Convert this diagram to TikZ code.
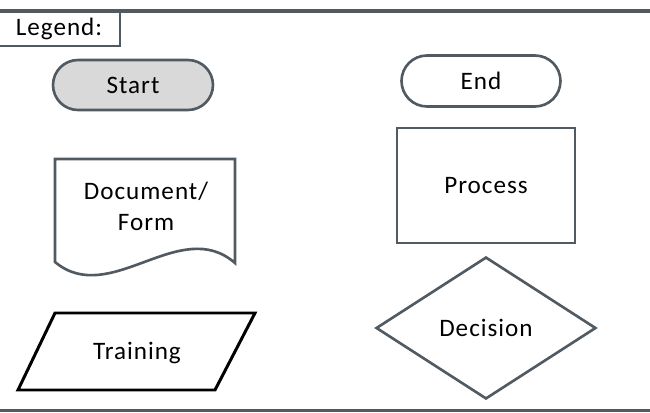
\documentclass[tikz,border=0pt]{standalone}
\usepackage{fontspec}
\setmainfont{Carlito}[LetterSpace=4]
\usetikzlibrary{shapes.geometric,shapes.misc}

\definecolor{legendgray}{HTML}{525A61}
\definecolor{startgray}{HTML}{D9D9D9}

\tikzset{
  shapeline/.style={draw=legendgray, line width=1.5pt},
  label/.style={font=\fontsize{14.3}{17.6}\selectfont, align=center, inner sep=0pt},
  symbol/.style={shapeline, label},
  terminal/.style={symbol, rounded rectangle, minimum width=3.2cm, minimum height=1cm},
  frameline/.style={draw=legendgray, line width=2pt},
}

\begin{document}
\begin{tikzpicture}[x=0.02cm, y=-0.02cm]
  \useasboundingbox (0,0) rectangle (650,413);
  % frame
  \draw[frameline] (0,11) -- (650,11);
  \draw[frameline] (0,410.5) -- (650,410.5);
  \node[symbol, minimum width=2.44cm, minimum height=0.7cm] (legend) at (59,28.5) {Legend:};

  % left column
  \node[terminal, fill=startgray] (start) at (133,85) {\raisebox{-1.5pt}{Start}};
  \draw[shapeline] (55,159) -- (235,159) -- (235,263)
    .. controls (180,215) and (110,308) .. (55,262) -- cycle;
  \node[label] (document) at (146,206) {Document/\\Form};
  \draw[line width=1.7pt] (55,313) -- (255,313) -- (215,390) -- (18,390) -- cycle;
  \node[label] (training) at (137,353) {Training};

  % right column
  \node[terminal, minimum width=3.18cm, minimum height=1.02cm] (end) at (481,81) {\raisebox{-1pt}{End}};
  \node[symbol, minimum width=3.56cm, minimum height=2.3cm] (process) at (486,185.5) {\raisebox{-1pt}{Process}};
  \node[symbol, diamond, minimum width=4.4cm, minimum height=2.84cm] (decision) at (486,328) {\raisebox{-1pt}{Decision}};
\end{tikzpicture}
\end{document}
